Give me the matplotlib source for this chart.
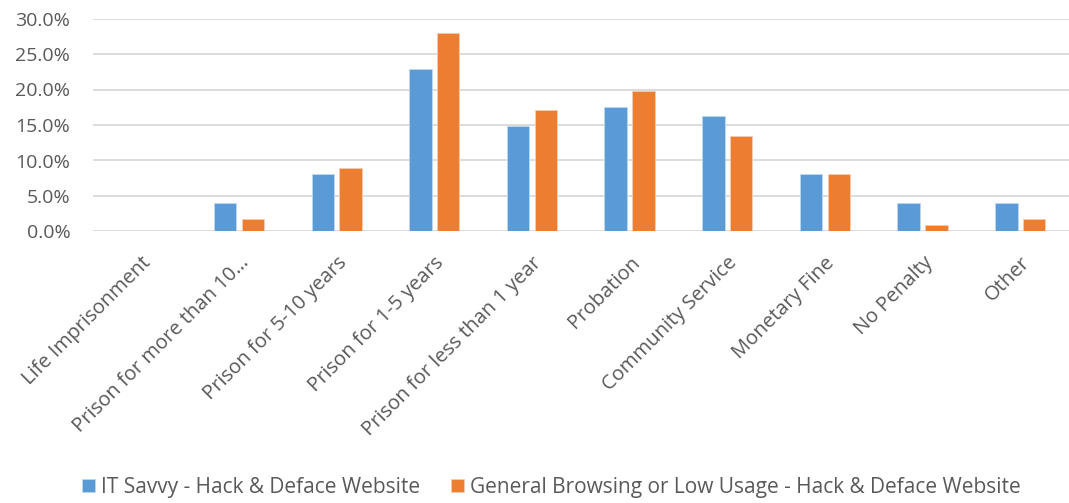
import matplotlib
matplotlib.use("Agg")
import matplotlib.pyplot as plt
import numpy as np
from matplotlib.ticker import PercentFormatter

categories = [
    "Life Imprisonment",
    "Prison for more than 10\u2026",
    "Prison for 5-10 years",
    "Prison for 1-5 years",
    "Prison for less than 1 year",
    "Probation",
    "Community Service",
    "Monetary Fine",
    "No Penalty",
    "Other",
]
it_savvy = [0.0, 4.0, 8.1, 22.9, 14.8, 17.5, 16.2, 8.1, 4.0, 4.0]
general = [0.0, 1.7, 8.9, 27.9, 17.1, 19.8, 13.4, 8.1, 0.9, 1.7]
series_names = [
    "IT Savvy - Hack & Deface Website",
    "General Browsing or Low Usage - Hack & Deface Website",
]
colors = ["#5B9BD5", "#ED7D31"]
text_color = "#595959"

plt.rcParams["font.family"] = ["Open Sans", "DejaVu Sans"]

W, H = 1069, 503
fig = plt.figure(figsize=(W / 100, H / 100), dpi=100)
left, right, top, bottom = 92.5, 1069.0, 18.5, 231.5
ax = fig.add_axes([left / W, 1 - bottom / H, (right - left) / W, (bottom - top) / H])

x = np.arange(len(categories))
w = 0.23
off = 0.142
ax.bar(x - off, it_savvy, w, color=colors[0], edgecolor="#BDD7EE", linewidth=0.6,
       label=series_names[0], zorder=3)
ax.bar(x + off, general, w, color=colors[1], edgecolor="#F8CBAD", linewidth=0.6,
       label=series_names[1], zorder=3)

ax.set_xlim(-0.5, len(categories) - 0.5)
ax.set_ylim(0, 30)
ax.set_yticks(np.arange(0, 30.1, 5))
ax.yaxis.set_major_formatter(PercentFormatter(decimals=1))
ax.grid(axis="y", color="#D9D9D9", linewidth=1.3, zorder=0)
for s in ax.spines.values():
    s.set_visible(False)
ax.tick_params(axis="y", length=0, labelsize=14, colors=text_color, pad=16)
ax.tick_params(axis="x", length=0, labelsize=14.5, colors=text_color, pad=15.5)

ax.set_xticks(x)
ax.set_xticklabels(categories, rotation=45, ha="right", rotation_mode="anchor")
for lbl in ax.get_xticklabels():
    lbl.set_color(text_color)

handles, labels = ax.get_legend_handles_labels()
fig.legend(handles, labels, loc="center", bbox_to_anchor=(551.5 / W, 1 - 487.5 / H), ncol=2,
           frameon=False, fontsize=15, labelcolor=text_color, handlelength=0.625,
           handleheight=0.625, handletextpad=0.29, columnspacing=1.5, borderpad=0)

fig.savefig("out.png", dpi=100)
